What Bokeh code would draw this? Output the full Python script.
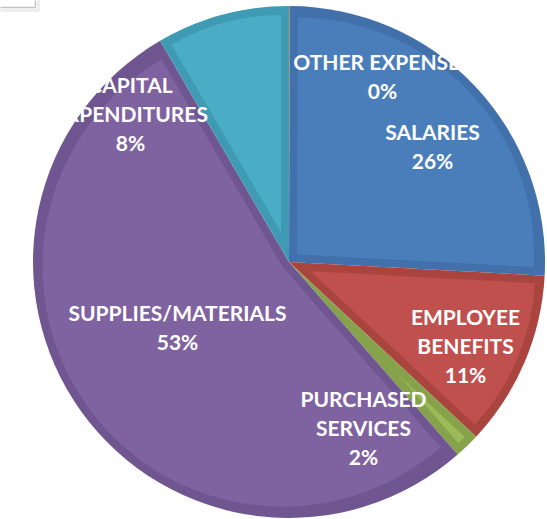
import math
from bokeh.plotting import figure
from bokeh.models import Range1d, ColumnDataSource
from bokeh.embed import file_html
from bokeh.resources import INLINE
from bokeh.core.properties import value

# ---- data ----
categories = ["OTHER EXPENSES", "SALARIES", "EMPLOYEE BENEFITS",
              "PURCHASED SERVICES", "SUPPLIES/MATERIALS", "CAPITAL EXPENDITURES"]
shares = [0.05, 25.8, 11.1, 1.6, 53.05, 8.4]   # percent of total

# ---- styles / layout ----
fill_colors = ["#F79646", "#4A7EBB", "#BF504D", "#9BBB59", "#7F63A1", "#4BACC6"]
edge_colors = ["#D9803A", "#4170AB", "#A9443F", "#86A34B", "#6F5690", "#3F9BB3"]
wrap_label = [False, False, True, True, False, True]
# label block centres in page pixels
label_px = [(382, 75), (432, 145), (465, 345), (363, 427), (177, 326), (130, 113)]

W, H = 547, 519
def X(px):
    return px
def Y(py):
    return H - py

CX, CY = X(288.5), Y(261.5)
R = 256.0
EDGE = 8.0

p = figure(width=W, height=H, output_backend="svg", toolbar_location=None,
           x_range=Range1d(0, W), y_range=Range1d(0, H),
           x_axis_type=None, y_axis_type=None, min_border=0)
p.outline_line_color = None
p.grid.visible = False
p.background_fill_color = "white"

# small framed box partly visible in the top-left corner
p.quad(left=[-20], right=[X(38)], bottom=[Y(10)], top=[H + 20],
       fill_color=None, line_color="#ededed", line_width=3)
p.quad(left=[-20], right=[X(35)], bottom=[Y(7)], top=[H + 20],
       fill_color="white", line_color="#c4c4c4", line_width=1.5)

total = sum(shares)
starts, ends = [], []
cum = 0.0
for v in shares:
    a0 = math.pi / 2 - 2 * math.pi * (cum + v) / total
    a1 = math.pi / 2 - 2 * math.pi * cum / total
    starts.append(a0)
    ends.append(a1)
    cum += v

# outer (darker edge) wedges
p.wedge(x=[CX] * len(shares), y=[CY] * len(shares), radius=[R] * len(shares),
        start_angle=starts, end_angle=ends,
        fill_color=edge_colors, line_color=None)

# inset lighter wedges (apex moved along bisector so edges are inset by EDGE)
ix, iy, ir, ia0, ia1, ic = [], [], [], [], [], []
for a0, a1, c in zip(starts, ends, fill_colors):
    half = (a1 - a0) / 2
    s = EDGE / math.sin(half) if math.sin(half) > 1e-6 else 1e9
    rin = R - EDGE - s
    if rin <= 2:
        continue
    mid = (a0 + a1) / 2
    ix.append(CX + s * math.cos(mid))
    iy.append(CY + s * math.sin(mid))
    ir.append(rin)
    ia0.append(a0)
    ia1.append(a1)
    ic.append(c)
p.wedge(x=ix, y=iy, radius=ir, start_angle=ia0, end_angle=ia1,
        fill_color=ic, line_color=None)

# labels
texts = []
for name, v, wrap in zip(categories, shares, wrap_label):
    nm = name.replace(" ", "\n") if wrap else name
    texts.append(f"{nm}\n{round(v)}%")
src = ColumnDataSource(dict(x=[X(a) for a, b in label_px],
                            y=[Y(b) for a, b in label_px], t=texts))
p.text(x="x", y="y", text="t", source=src, text_color="white",
       text_font=value("Lato"), text_font_style="bold", text_font_size="21px",
       text_align="center", text_baseline="middle", text_line_height=1.16)

open("out.html", "w").write(file_html(p, INLINE))
